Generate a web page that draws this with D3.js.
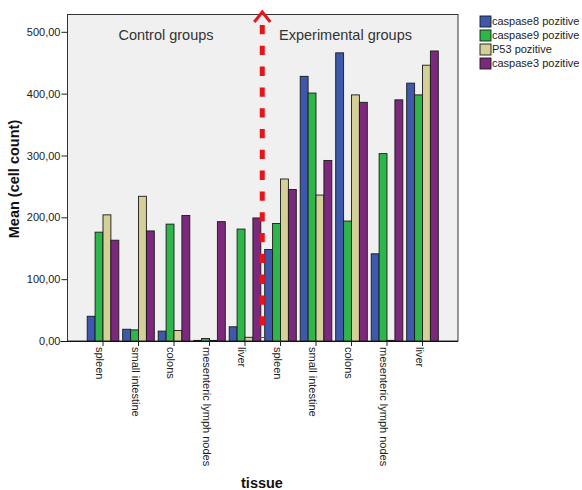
<!DOCTYPE html>
<html><head><meta charset="utf-8">
<script src="https://cdn.jsdelivr.net/npm/d3@7"></script>
<style>body{margin:0;background:#fff}svg{display:block;font-family:Arial,"Liberation Sans",sans-serif}</style>
</head><body><svg id="c" width="582" height="490"></svg>
<script>
const categories = ["spleen","small intestine","colons","mesenteric lymph nodes","liver","spleen","small intestine","colons","mesenteric lymph nodes","liver"];
const seriesNames = ["caspase8 pozitive","caspase9 pozitive","P53 pozitive","caspase3 pozitive"];
const caspase8 = [40, 19, 16, 1, 23, 148, 428, 466, 141, 417];
const caspase9 = [176, 18, 189, 4, 181, 190, 401, 194, 303, 398];
const p53      = [204, 234, 17, 1, 6, 262, 236, 398, 1, 446];
const caspase3 = [163, 178, 203, 193, 199, 245, 292, 386, 390, 469];
const yTicks = [0, 100, 200, 300, 400, 500];
const groupLabels = ["Control groups", "Experimental groups"];
const colors = ["#3e58ac", "#2fb64a", "#d5cf98", "#7b287d"];

const values = [caspase8, caspase9, p53, caspase3];
const svg = d3.select("#c");
const L = 67.5, R = 458, T = 14.5, B = 341;

const x0 = d3.scaleBand().domain(d3.range(categories.length)).range([L, R]).paddingInner(0.11).paddingOuter(0.555);
const x1 = d3.scaleBand().domain(d3.range(seriesNames.length)).range([0, x0.bandwidth()]);
const y = d3.scaleLinear().domain([0, 528]).range([B, T]);

svg.append("rect").attr("x", L).attr("y", T).attr("width", R - L).attr("height", B - T)
  .attr("fill", "#f0f0f0").attr("stroke", "#333").attr("stroke-width", 1);

// bars
const g = svg.append("g");
categories.forEach((c, i) => {
  values.forEach((arr, s) => {
    g.append("rect")
      .attr("x", x0(i) + x1(s))
      .attr("y", y(arr[i]))
      .attr("width", x1.bandwidth())
      .attr("height", B - y(arr[i]))
      .attr("fill", colors[s]).attr("stroke", "#1a1a1a").attr("stroke-width", 0.9);
  });
});

// y axis
const ya = svg.append("g").attr("transform", `translate(${L},0)`)
  .call(d3.axisLeft(y).tickValues(yTicks).tickSize(6).tickPadding(1).tickFormat(d => d3.format(".2f")(d).replace(".", ",")));
ya.select(".domain").remove();
ya.selectAll("line").attr("stroke", "#222");
ya.selectAll("text").attr("font-size", 11).attr("fill", "#222").attr("font-family", "Arial, Liberation Sans, sans-serif");

// x axis
const xa = svg.append("g").attr("transform", `translate(0,${B})`)
  .call(d3.axisBottom(x0).tickSize(5).tickFormat(i => categories[i]));
xa.select(".domain").attr("stroke", "#111").attr("d", `M${L - 7},0.5H${R}`);
xa.selectAll("line").attr("stroke", "#222");
xa.selectAll("text").attr("font-size", 11).attr("fill", "#222").attr("font-family", "Arial, Liberation Sans, sans-serif")
  .attr("x", 6).attr("y", 0).attr("dy", "0.35em").attr("dx", 0)
  .attr("text-anchor", "start")
  .attr("transform", "translate(-3,0) rotate(90)");

// group labels
svg.append("text").attr("x", 166).attr("y", 40).attr("text-anchor", "middle").attr("font-size", 14.5).attr("fill", "#333").text(groupLabels[0]);
svg.append("text").attr("x", 345.5).attr("y", 40).attr("text-anchor", "middle").attr("font-size", 14.5).attr("fill", "#333").text(groupLabels[1]);

// red dashed divider
const dx = (x0(4) + x0.bandwidth() + x0(5)) / 2 - 0.5;
svg.append("line").attr("x1", dx).attr("x2", dx).attr("y1", 25).attr("y2", 338)
  .attr("stroke", "#e8141b").attr("stroke-width", 5).attr("stroke-dasharray", "9.3,11.5");
svg.append("path").attr("d", `M${dx - 8},${22}L${dx},${12}L${dx + 8},${22}`)
  .attr("fill", "none").attr("stroke", "#e8141b").attr("stroke-width", 3);

// axis titles
svg.append("text").attr("transform", "translate(19,179) rotate(-90)").attr("text-anchor", "middle")
  .attr("font-size", 14.5).attr("font-weight", "bold").attr("fill", "#111").text("Mean (cell count)");
svg.append("text").attr("x", 262).attr("y", 488).attr("text-anchor", "middle")
  .attr("font-size", 14.5).attr("font-weight", "bold").attr("fill", "#111").text("tissue");

// legend
const lg = svg.append("g");
seriesNames.forEach((n, s) => {
  const cy = 21.5 + s * 14;
  lg.append("rect").attr("x", 480).attr("y", cy - 5.5).attr("width", 11).attr("height", 11)
    .attr("fill", colors[s]).attr("stroke", "#1a1a1a").attr("stroke-width", 0.9);
  lg.append("text").attr("x", 492).attr("y", cy).attr("dy", "0.35em").attr("font-size", 11).attr("fill", "#222").text(n);
});
</script></body></html>
